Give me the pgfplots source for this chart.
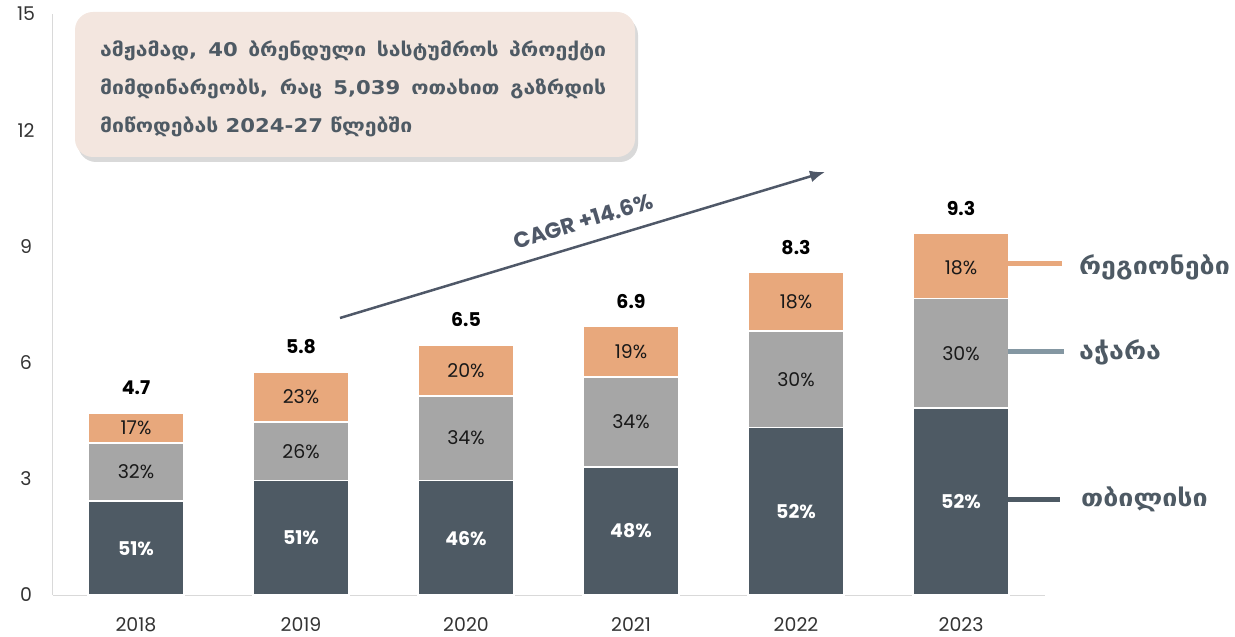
\documentclass[border=0pt]{standalone}
\usepackage{fontspec}
\setmainfont{Poppins}
\newfontfamily\geo[FakeStretch=1.12]{DejaVu Sans}
\usepackage{pgfplots}
\pgfplotsset{compat=1.18}
\usetikzlibrary{arrows.meta,shadows}
\definecolor{darkc}{HTML}{4E5A64}
\definecolor{grayc}{HTML}{A6A6A6}
\definecolor{orangec}{HTML}{E8A87C}
\definecolor{boxc}{HTML}{F3E6DF}
\definecolor{legblue}{HTML}{8497A2}
\definecolor{arrowc}{HTML}{4F5868}
\definecolor{axisgray}{HTML}{D9D9D9}
\definecolor{tickc}{HTML}{333333}
\begin{document}
\begin{tikzpicture}
\path[use as bounding box] (0,0) rectangle (1235bp,637bp);
\begin{axis}[
 at={(53bp,42bp)}, anchor=south west,
 scale only axis, width=992bp, height=581bp,
 xmin=-0.503, xmax=5.509, ymin=0, ymax=15,
 axis x line*=bottom, axis y line*=left,
 axis line style={draw=axisgray, line width=1bp, -},
 ytick={0,3,6,9,12,15}, xtick={0,1,2,3,4,5},
 xticklabels={2018,2019,2020,2021,2022,2023},
 major tick length=0pt,
 tick label style={font=\fontsize{19}{19}\selectfont, text=tickc},
 /pgf/number format/assume math mode=true,
 yticklabel style={anchor=center, xshift=-27bp},
 xticklabel style={anchor=center, yshift=-30bp},
 clip=false,
]
% totals (regions on top)
\addplot[ybar, bar width=0.58, bar shift=0pt, fill=orangec, draw=white, line width=1.5bp,
  nodes near coords, point meta=explicit symbolic,
  every node near coord/.append style={anchor=center, yshift=25bp, text=black, font=\bfseries\fontsize{19}{19}\selectfont}]
  table[meta=t] {
x y t
0 4.70 4.7
1 5.76 5.8
2 6.46 6.5
3 6.93 6.9
4 8.32 8.3
5 9.33 9.3
};
% Tbilisi + Adjara
\addplot[ybar, bar width=0.58, bar shift=0pt, fill=grayc, draw=white, line width=1.5bp]
  table {
x y
0 3.93
1 4.47
2 5.14
3 5.63
4 6.82
5 7.65
};
% Tbilisi
\addplot[ybar, bar width=0.58, bar shift=0pt, fill=darkc, draw=white, line width=1.5bp]
  table {
x y
0 2.43
1 2.95
2 2.95
3 3.31
4 4.32
5 4.83
};
% labels
\addplot[draw=none, mark=none, nodes near coords, point meta=explicit symbolic,
  every node near coord/.append style={anchor=center, text=white, font=\bfseries\fontsize{19}{19}\selectfont}]
  table[meta=t] {
x y t
0 1.20 51\%
1 1.47 51\%
2 1.47 46\%
3 1.66 48\%
4 2.16 52\%
5 2.40 52\%
};
\addplot[draw=none, mark=none, nodes near coords, point meta=explicit symbolic,
  every node near coord/.append style={anchor=center, text=black!90, font=\fontsize{19}{19}\selectfont}]
  table[meta=t] {
x y t
0 3.18 32\%
1 3.71 26\%
2 4.05 34\%
3 4.47 34\%
4 5.57 30\%
5 6.22 30\%
0 4.32 17\%
1 5.12 23\%
2 5.80 20\%
3 6.28 19\%
4 7.57 18\%
5 8.46 18\%
};
\end{axis}
\begin{scope}[x=1bp, y=-1bp, shift={(0,637bp)}]
\fill[boxc, rounded corners=18bp, drop shadow={shadow xshift=3bp, shadow yshift=-5bp, opacity=0.15, fill=black}] (75,12) rectangle (635,157);
\begin{scope}[every node/.style={anchor=base west, inner sep=0pt, text=darkc, font=\geo\bfseries\fontsize{19}{19}\selectfont}]
\node at (100,57) {\makebox[506bp][s]{ამჟამად, 40 ბრენდული სასტუმროს პროექტი}};
\node at (100,95) {\makebox[506bp][s]{მიმდინარეობს, რაც 5,039 ოთახით გაზრდის}};
\node at (100,133) {მიწოდებას 2024-27 წლებში};
\end{scope}
\draw[arrowc, line width=2.5bp, -{Latex[length=15bp,width=12bp]}] (340,318) -- (825,172);
\node[rotate=16.75, text=arrowc, font=\bfseries\fontsize{22}{22}\selectfont] at (583,221) {CAGR +14.6\%};
\draw[orangec, line width=5bp] (1008,264) -- (1062,264);
\draw[legblue, line width=5bp] (1008,352) -- (1064,352);
\draw[darkc, line width=5bp] (1008,500) -- (1060,500);
\begin{scope}[every node/.style={anchor=west, inner sep=0pt, text=darkc, font=\geo\bfseries\fontsize{24}{24}\selectfont}]
\node at (1079,267) {რეგიონები};
\node at (1079,352) {აჭარა};
\node at (1081,499) {თბილისი};
\end{scope}
\end{scope}
\end{tikzpicture}
\end{document}
